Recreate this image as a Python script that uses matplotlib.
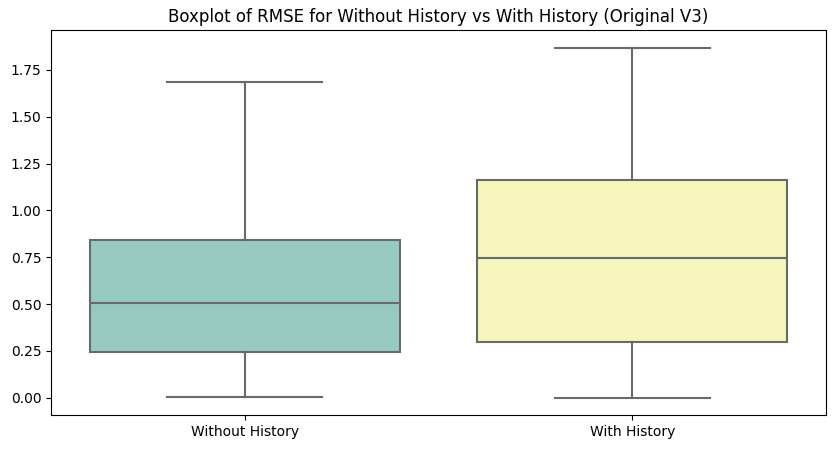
import colorsys
import matplotlib
matplotlib.use("Agg")
import matplotlib.pyplot as plt
import matplotlib.colors as mcolors

categories = ["Without History", "With History"]
whislo = [0.005, 0.001]
q1 = [0.246, 0.300]
med = [0.507, 0.748]
q3 = [0.843, 1.163]
whishi = [1.685, 1.870]
base_colors = ["#8dd3c7", "#ffffb3"]

def desaturate(c, prop=0.75):
    r, g, b = mcolors.to_rgb(c)
    h, l, s = colorsys.rgb_to_hls(r, g, b)
    return colorsys.hls_to_rgb(h, l, s * prop)

fills = [desaturate(c) for c in base_colors]
lum = min(colorsys.rgb_to_hls(*f)[1] for f in fills)
gray = (lum * 0.6,) * 3

fig = plt.figure(figsize=(8.35, 4.49), dpi=100)
ax = fig.add_axes([51 / 835, 1 - 415 / 449, (826 - 51) / 835, (415 - 30) / 449])

stats = []
for i, name in enumerate(categories):
    stats.append(dict(label=name, whislo=whislo[i], q1=q1[i], med=med[i],
                      q3=q3[i], whishi=whishi[i], fliers=[]))

bp = ax.bxp(stats, positions=range(len(categories)), widths=0.8,
            patch_artist=True, showfliers=False,
            boxprops=dict(edgecolor=gray, linewidth=1.5),
            whiskerprops=dict(color=gray, linewidth=1.5),
            capprops=dict(color=gray, linewidth=1.5),
            medianprops=dict(color=gray, linewidth=1.5))
for patch, f in zip(bp["boxes"], fills):
    patch.set_facecolor(f)

ax.set_xlim(-0.5, len(categories) - 0.5)
ax.set_xticks(range(len(categories)))
ax.set_xticklabels(categories)
ax.set_title("Boxplot of RMSE for Without History vs With History (Original V3)")
ax.margins(y=0.05)

fig.savefig("out.png", dpi=100)
